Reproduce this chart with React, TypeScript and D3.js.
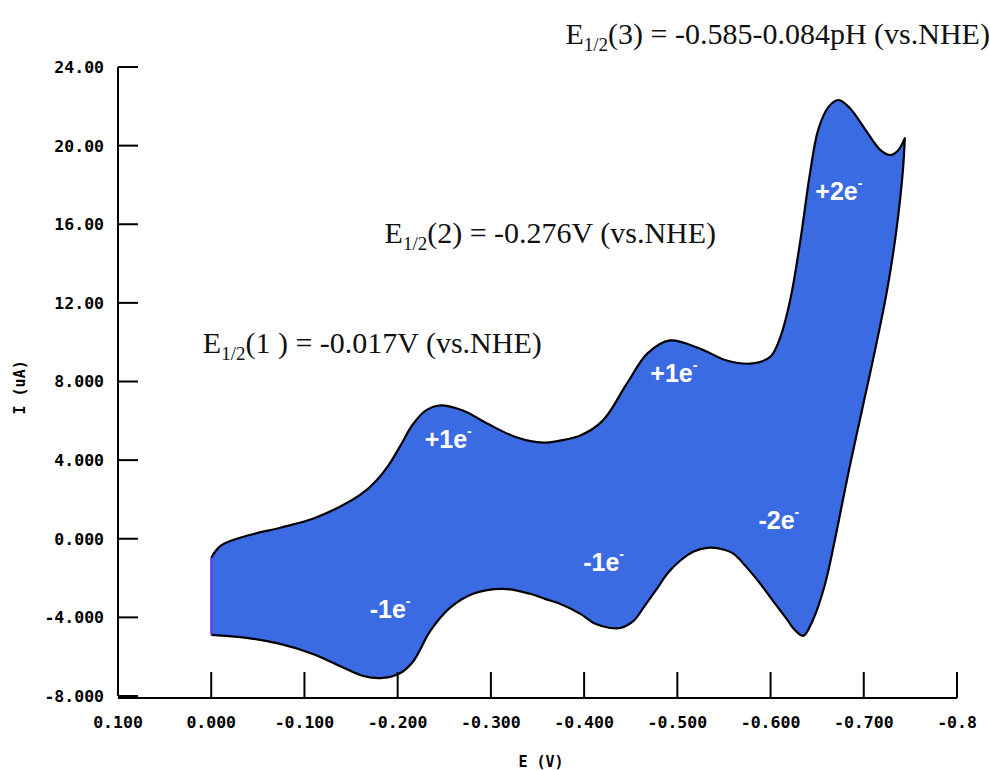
import React, { useEffect, useRef } from "react";
import * as d3 from "d3";

// forward scan (0.000 V -> -0.744 V), upper branch
const forwardE = [0.0, -0.01, -0.038, -0.074, -0.109, -0.138, -0.16, -0.176, -0.19, -0.203, -0.216, -0.23, -0.245, -0.27, -0.296, -0.328, -0.356, -0.374, -0.396, -0.42, -0.446, -0.468, -0.492, -0.524, -0.553, -0.581, -0.6, -0.61, -0.621, -0.632, -0.642, -0.651, -0.662, -0.673, -0.685, -0.702, -0.718, -0.728, -0.737, -0.744];
const forwardI = [-0.97, -0.36, 0.15, 0.56, 1.02, 1.63, 2.24, 2.9, 3.72, 4.74, 5.8, 6.52, 6.78, 6.52, 5.86, 5.15, 4.89, 4.99, 5.25, 6.01, 7.9, 9.43, 10.09, 9.68, 9.07, 8.92, 9.27, 10.19, 12.13, 15.18, 18.5, 20.79, 21.96, 22.32, 21.91, 20.79, 19.77, 19.52, 19.77, 20.38];

// reverse scan (-0.744 V -> 0.000 V), lower branch
const reverseE = [-0.744, -0.742, -0.735, -0.725, -0.712, -0.698, -0.684, -0.671, -0.658, -0.645, -0.635, -0.626, -0.618, -0.605, -0.589, -0.573, -0.56, -0.546, -0.532, -0.517, -0.503, -0.49, -0.478, -0.465, -0.453, -0.439, -0.428, -0.412, -0.396, -0.374, -0.358, -0.342, -0.313, -0.281, -0.256, -0.235, -0.217, -0.203, -0.184, -0.163, -0.138, -0.109, -0.074, -0.038, 0.0];
const reverseI = [20.38, 18.75, 15.7, 12.64, 9.58, 6.53, 3.47, 0.41, -2.39, -4.18, -4.94, -4.64, -4.13, -3.31, -2.29, -1.38, -0.76, -0.51, -0.46, -0.66, -1.12, -1.73, -2.55, -3.41, -4.18, -4.54, -4.54, -4.33, -3.82, -3.31, -3.06, -2.8, -2.55, -2.8, -3.52, -4.69, -6.22, -6.83, -7.08, -6.98, -6.47, -5.86, -5.35, -5.04, -4.89];

const xTicks = [0.1, 0.0, -0.1, -0.2, -0.3, -0.4, -0.5, -0.6, -0.7, -0.8];
const xTickLabels = ["0.100", "0.000", "-0.100", "-0.200", "-0.300", "-0.400", "-0.500", "-0.600", "-0.700", "-0.8"];
const yTicks = [-8, -4, 0, 4, 8, 12, 16, 20, 24];
const yTickLabels = ["-8.000", "-4.000", "0.000", "4.000", "8.000", "12.00", "16.00", "20.00", "24.00"];

// electron transfer labels, anchored at (E, I)
const peakLabels = ["+1e", "-1e", "+1e", "-1e", "-2e", "+2e"];
const peakLabelE = [-0.229, -0.17, -0.471, -0.399, -0.587, -0.648];
const peakLabelI = [4.64, -4.03, 7.95, -1.63, 0.51, 17.22];

// half-wave potentials
const halfWaveIndex = ["(1 )", "(2)", "(3)"];
const halfWaveText = [" = -0.017V (vs.NHE)", " = -0.276V (vs.NHE)", " = -0.585-0.084pH (vs.NHE)"];
const halfWaveE = [0.009, -0.186, -0.38];
const halfWaveI = [9.43, 15.03, 25.17];

const CVChart = () => {
  const svgRef = useRef<SVGSVGElement>(null);

  useEffect(() => {
    const svg = d3.select(svgRef.current);
    svg.selectAll("*").remove();

    const x = d3.scaleLinear().domain([0.1, -0.8]).range([118, 957]);
    const y = d3.scaleLinear().domain([-8, 24]).range([696, 67]);
    const mono = "'DejaVu Sans Mono', monospace";

    const forward = forwardE.map((e, i) => [e, forwardI[i]] as [number, number]);
    const reverse = reverseE.map((e, i) => [e, reverseI[i]] as [number, number]);

    const curve = d3
      .line<[number, number]>()
      .x((d) => x(d[0]))
      .y((d) => y(d[1]))
      .curve(d3.curveCatmullRom.alpha(0.5));

    const fwdPath = curve(forward) || "";
    const revPath = (curve(reverse) || "").replace(/^M/, "L");

    // filled voltammogram
    svg
      .append("path")
      .attr("d", fwdPath + revPath + "Z")
      .attr("fill", "#3b6be3")
      .attr("stroke", "none");

    svg
      .append("path")
      .attr("d", fwdPath + revPath)
      .attr("fill", "none")
      .attr("stroke", "#000")
      .attr("stroke-width", 2.2)
      .attr("stroke-linejoin", "round");

    svg
      .append("line")
      .attr("x1", x(forwardE[0]))
      .attr("x2", x(forwardE[0]))
      .attr("y1", y(forwardI[0]))
      .attr("y2", y(reverseI[reverseI.length - 1]))
      .attr("stroke", "#6a2cf0")
      .attr("stroke-width", 2);

    // axes
    const axes = svg.append("g").attr("stroke", "#000").attr("stroke-width", 2);
    axes
      .append("line")
      .attr("x1", x(0.1))
      .attr("x2", x(0.1))
      .attr("y1", y(24))
      .attr("y2", y(-8));
    axes
      .append("line")
      .attr("x1", x(0.1))
      .attr("x2", x(-0.8))
      .attr("y1", y(-8) + 2)
      .attr("y2", y(-8) + 2);

    axes
      .selectAll(".ytick")
      .data(yTicks)
      .join("line")
      .attr("x1", x(0.1))
      .attr("x2", x(0.1) + 20)
      .attr("y1", (d) => y(d))
      .attr("y2", (d) => y(d));

    axes
      .selectAll(".xtick")
      .data(xTicks.slice(1))
      .join("line")
      .attr("x1", (d) => x(d))
      .attr("x2", (d) => x(d))
      .attr("y1", y(-8) + 2)
      .attr("y2", y(-8) - 24);

    svg
      .append("g")
      .selectAll("text")
      .data(yTicks)
      .join("text")
      .attr("x", x(0.1) - 14)
      .attr("y", (d) => y(d))
      .attr("dy", "0.36em")
      .attr("text-anchor", "end")
      .attr("font-family", mono)
      .attr("font-weight", "bold")
      .attr("font-size", 16.5)
      .text((d, i) => yTickLabels[i]);

    svg
      .append("g")
      .selectAll("text")
      .data(xTicks)
      .join("text")
      .attr("x", (d) => x(d))
      .attr("y", y(-8) + 32)
      .attr("text-anchor", "middle")
      .attr("font-family", mono)
      .attr("font-weight", "bold")
      .attr("font-size", 16.5)
      .text((d, i) => xTickLabels[i]);

    svg
      .append("text")
      .attr("x", 541)
      .attr("y", 767)
      .attr("text-anchor", "middle")
      .attr("font-family", mono)
      .attr("font-weight", "bold")
      .attr("font-size", 15)
      .text("E (V)");

    svg
      .append("text")
      .attr("transform", `translate(25, ${y(7.7)}) rotate(-90)`)
      .attr("text-anchor", "middle")
      .attr("font-family", mono)
      .attr("font-weight", "bold")
      .attr("font-size", 15)
      .text("I (uA)");

    // peak labels
    peakLabels.forEach((lab, i) => {
      const t = svg
        .append("text")
        .attr("x", x(peakLabelE[i]))
        .attr("y", y(peakLabelI[i]))
        .attr("fill", "#fff")
        .attr("font-family", "'Liberation Sans', Arial, sans-serif")
        .attr("font-weight", "bold")
        .attr("font-size", 25);
      t.append("tspan").text(lab);
      t.append("tspan").attr("font-size", 14).attr("dy", -12).text("-");
    });

    // half-wave potential notes
    halfWaveText.forEach((txt, i) => {
      const t = svg
        .append("text")
        .attr("x", x(halfWaveE[i]))
        .attr("y", y(halfWaveI[i]))
        .attr("fill", "#111")
        .attr("font-family", "'Liberation Serif', 'Times New Roman', serif")
        .attr("font-size", 30)
        .attr("xml:space", "preserve");
      t.append("tspan").text("E");
      t.append("tspan").attr("font-size", 19).attr("dy", 7).text("1/2");
      t.append("tspan").attr("dy", -7).text(halfWaveIndex[i] + txt);
    });
  }, []);

  return (
    <svg
      ref={svgRef}
      width={990}
      height={770}
      style={{ position: "absolute", left: 0, top: 0, background: "#fff" }}
    ></svg>
  );
};

export default function App() {
  return <CVChart />;
}
